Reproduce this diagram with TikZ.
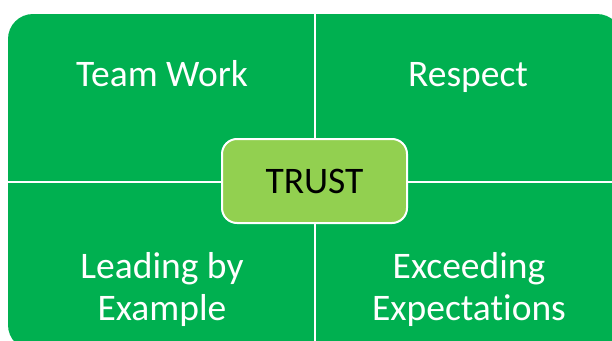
\documentclass[tikz,border=0pt]{standalone}
\usepackage{fontspec}
\setmainfont{Carlito}[Ligatures=NoCommon]
\definecolor{matgreen}{RGB}{0,176,80}
\definecolor{coregreen}{RGB}{146,208,80}

\begin{document}
\begin{tikzpicture}[
    x=1pt, y=-1pt,
    quadtext/.style={text=white, font=\fontsize{37.5}{41.5}\selectfont, align=center, inner sep=0pt},
    corebox/.style={rectangle, rounded corners=15pt, draw=white, line width=2pt, fill=coregreen,
        minimum width=185pt, minimum height=84pt}
]
\useasboundingbox (0,0) rectangle (612,340);
\clip (0,0) rectangle (612,340);

% Matrix background
\fill[matgreen, rounded corners=25pt] (8,14) rectangle (622,350);

% Dividers
\coordinate (left) at (8,182);
\coordinate (right) at (622,182);
\coordinate (top) at (315,14);
\coordinate (bottom) at (315,350);
\draw[white, line width=2pt] (left) -- (right);
\draw[white, line width=2pt] (top) -- (bottom);

% Quadrant labels
\node[quadtext, anchor=base] (team) at (162,86) {Team Work};
\node[quadtext, anchor=base] (respect) at (468,86) {Respect};
\node[quadtext] (leading) at (162,289.5) {Leading by\\Example};
\node[quadtext] (exceeding) at (469,289.5) {Exceeding\\Expectations};

% Centre
\node[corebox] (trust) at (314.5,181) {};
\node[font=\fontsize{37.5}{41.5}\selectfont, inner sep=0pt, anchor=base] (trusttext) at (314.5,193) {TRUST};

\end{tikzpicture}
\end{document}
